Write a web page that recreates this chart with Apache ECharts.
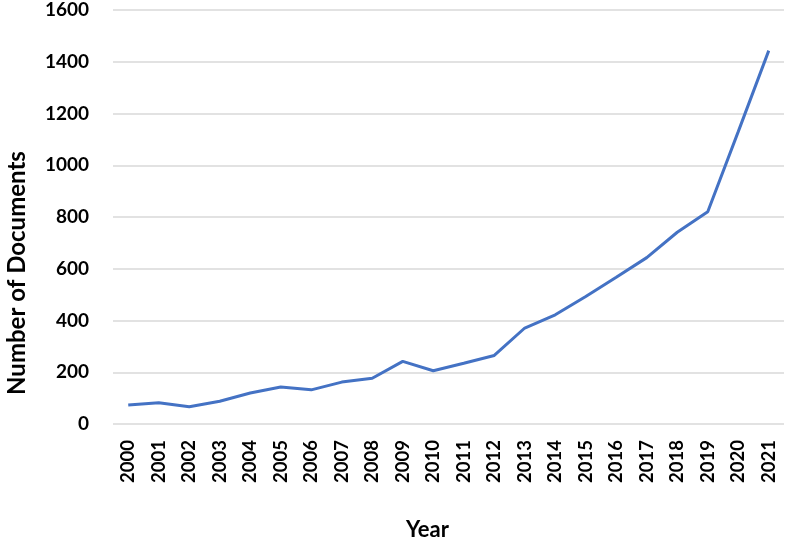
<!DOCTYPE html>
<html>
<head>
<meta charset="utf-8">
<script src="https://cdn.jsdelivr.net/npm/echarts@6/dist/echarts.min.js"></script>
<style>
  html, body { margin: 0; padding: 0; background: #fff; }
  #main { width: 786px; height: 541px; }
</style>
</head>
<body>
<div id="main"></div>
<script>
var years = ['2000', '2001', '2002', '2003', '2004', '2005', '2006', '2007', '2008', '2009', '2010',
  '2011', '2012', '2013', '2014', '2015', '2016', '2017', '2018', '2019', '2020', '2021'];
var documents = [73, 82, 67, 88, 120, 143, 132, 162, 177, 242, 206,
  235, 265, 371, 422, 493, 567, 643, 741, 820, 1130, 1443];

var font = 'Lato, "Open Sans", sans-serif';

var chart = echarts.init(document.getElementById('main'));
chart.setOption({
  animation: false,
  grid: { left: 113, right: 2, top: 10, bottom: 117, containLabel: false, outerBoundsMode: 'none' },
  xAxis: {
    type: 'category',
    data: years,
    boundaryGap: true,
    name: 'Year',
    nameLocation: 'middle',
    nameGap: 95,
    nameTextStyle: { fontFamily: font, fontWeight: 'bold', fontSize: 22, color: '#000', padding: [0, 42, 0, 0] },
    axisLine: { show: false },
    axisTick: { show: false },
    axisLabel: { rotate: 90, margin: 16, fontFamily: font, fontWeight: 'bold', fontSize: 18.5, color: '#000' }
  },
  yAxis: {
    type: 'value',
    min: 0,
    max: 1600,
    interval: 200,
    name: 'Number of Documents',
    nameLocation: 'middle',
    nameGap: 84,
    nameTextStyle: { fontFamily: font, fontWeight: 'bold', fontSize: 24, color: '#000', padding: [0, 112, 0, 0] },
    axisLine: { show: false },
    axisTick: { show: false },
    axisLabel: {
      margin: 24, fontFamily: font, fontWeight: 'bold', fontSize: 19, color: '#000',
      formatter: function (v) { return String(v); }
    },
    splitLine: { lineStyle: { color: '#d9d9d9', width: 1.5 } }
  },
  series: [{
    type: 'line',
    data: documents,
    symbol: 'none',
    lineStyle: { color: '#4472c4', width: 3 }
  }]
});
</script>
</body>
</html>
